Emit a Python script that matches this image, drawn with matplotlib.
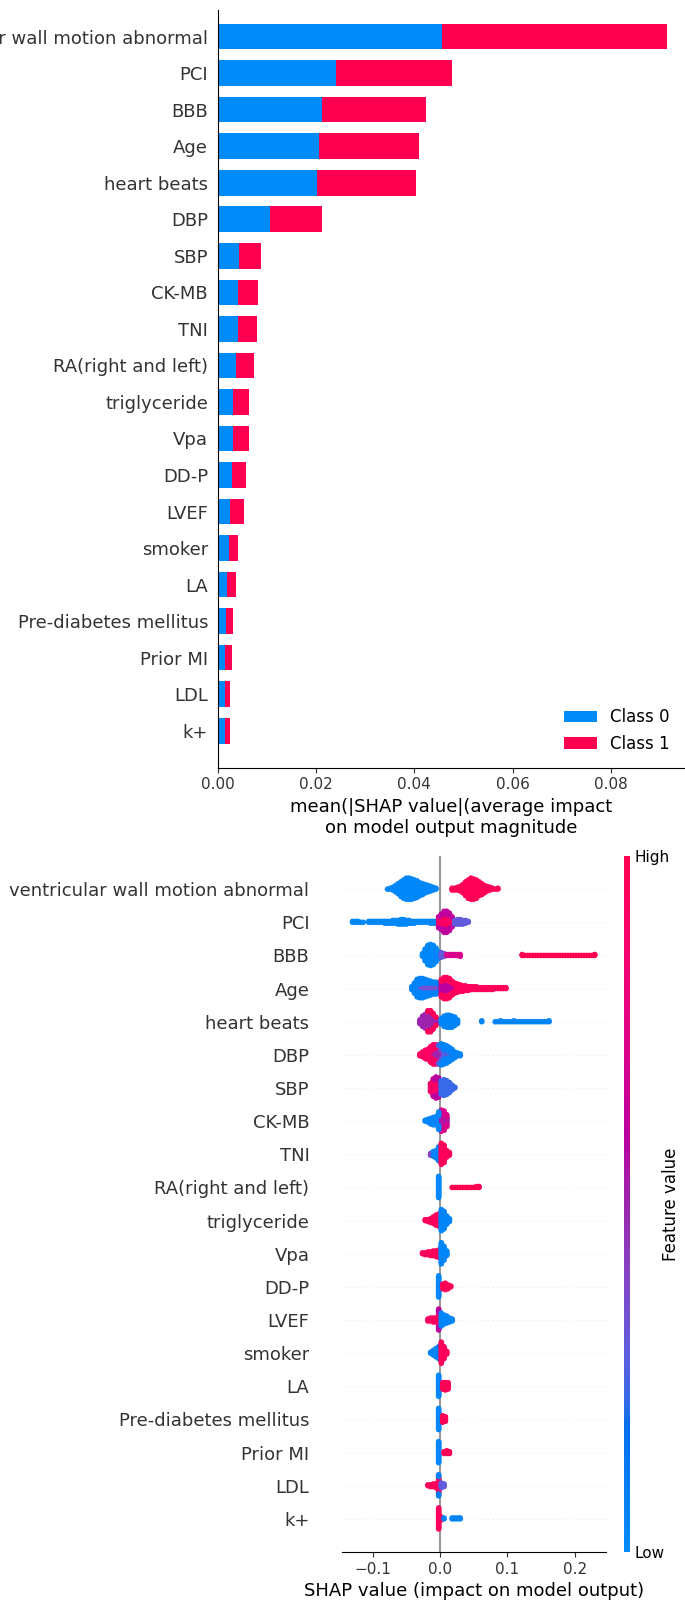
import numpy as np
import matplotlib
matplotlib.use("Agg")
import matplotlib.pyplot as plt
from matplotlib.colors import LinearSegmentedColormap
from matplotlib.cm import ScalarMappable

# feature order, most important first
features = ["ventricular wall motion abnormal", "PCI", "BBB", "Age", "heart beats",
            "DBP", "SBP", "CK-MB", "TNI", "RA(right and left)", "triglyceride",
            "Vpa", "DD-P", "LVEF", "smoker", "LA", "Pre-diabetes mellitus",
            "Prior MI", "LDL", "k+"]

# mean |SHAP| per class
class0 = [0.0457, 0.0240, 0.0213, 0.0205, 0.0202, 0.0106, 0.0044, 0.0041, 0.0041, 0.0038,
          0.0030, 0.0030, 0.0029, 0.0025, 0.0022, 0.0019, 0.0016, 0.0014, 0.0014, 0.0014]
class1 = [0.0457, 0.0236, 0.0210, 0.0204, 0.0202, 0.0107, 0.0043, 0.0041, 0.0039, 0.0036,
          0.0033, 0.0033, 0.0028, 0.0028, 0.0019, 0.0017, 0.0014, 0.0014, 0.0011, 0.0011]

# beeswarm: (first bin, feature value 0..1, point count per bin)
BIN = 0.004
vwma_pts = [(-0.050, 0.30, [2, 3, 3, 3, 3, 2, 2]),
            (-0.078, 0.02, [1, 2, 4, 8, 12, 17, 21, 22, 21, 20, 18, 16, 13, 11, 10, 8, 6, 4, 2]),
            (0.034, 0.70, [2, 3, 3, 3, 2, 2]),
            (0.018, 0.97, [3, 3, 4, 6, 8, 13, 18, 21, 21, 19, 16, 13, 9, 6, 4, 2, 1, 2])]
pci_pts = [(-0.130, 0.02, [2, 2, 2, 1, 1, 0, 2, 2, 2, 2, 2, 2, 3, 3, 3, 4, 4, 5, 6, 6, 5, 4,
                           3, 3, 2, 2, 2, 2, 2, 3, 3, 3, 3]),
           (-0.002, 0.92, [8, 14, 16, 16, 14, 9]),
           (-0.002, 0.62, [2, 4, 8, 8, 6, 3]),
           (0.022, 0.30, [5, 6, 6, 5, 4, 2])]
bbb_pts = [(-0.026, 0.03, [4, 14, 22, 24, 22, 16, 8]),
           (0.002, 0.30, [6, 4]),
           (0.010, 0.72, [2, 2, 2, 2, 2, 3]),
           (0.122, 1.00, [2, 1, 1, 1, 1, 1, 1, 1, 1, 1, 1, 1, 1, 1, 1, 1, 1, 1, 1, 1,
                          1, 1, 1, 1, 1, 1, 1, 2])]
age_pts = [(-0.034, 0.35, [6, 8, 10, 10, 10, 10, 10, 10, 8]),
           (-0.042, 0.06, [4, 12, 14, 14, 12, 10, 8, 6, 4, 4, 4]),
           (0.002, 0.60, [14, 16, 16, 14, 10, 6]),
           (0.002, 0.95, [6, 8, 8, 8, 6, 6, 10, 8, 7, 6, 5, 4, 4, 4, 3, 3, 3, 3, 3, 3,
                          2, 2, 2, 2, 2])]
hb_pts = [(-0.030, 0.50, [5, 12, 16, 20, 20, 14, 8, 3]),
          (-0.018, 0.95, [4, 4, 4, 2]),
          (0.002, 0.04, [6, 12, 14, 14, 13, 10, 5]),
          (0.062, 0.04, [2]),
          (0.082, 0.04, [1, 1, 2, 1, 1, 1, 1, 2, 1, 1, 1, 1, 1, 1, 1, 1, 1, 1, 1, 1, 2])]
dbp_pts = [(-0.014, 0.50, [6, 10, 14, 14, 10]),
           (-0.030, 0.92, [3, 6, 10, 12, 12, 12, 8, 4]),
           (-0.002, 0.28, [4, 8, 10, 8, 6, 4]),
           (0.002, 0.06, [6, 12, 12, 10, 8, 7, 4, 3])]
sbp_pts = [(-0.014, 0.90, [10, 18, 18, 14]),
           (-0.010, 0.60, [2, 6, 8]),
           (0.002, 0.22, [16, 18, 16, 12, 6, 2])]
ckmb_pts = [(-0.002, 0.55, [10, 14, 12, 8]),
            (0.002, 0.72, [10, 10, 6]),
            (-0.022, 0.04, [2, 4, 7, 9, 10, 10])]
tni_pts = [(-0.014, 0.40, [3, 4, 4]),
           (-0.010, 0.05, [2, 5, 16]),
           (0.002, 0.95, [24, 20, 8, 4])]
ra_pts = [(-0.002, 0.03, [24]),
          (0.018, 1.00, [1, 1, 1, 1, 1, 1, 1, 1, 1, 2, 2])]
trig_pts = [(-0.022, 0.95, [2, 3, 5, 8, 12, 14]),
            (0.002, 0.04, [24, 20, 10, 4])]
vpa_pts = [(-0.026, 0.95, [2, 3, 4, 5, 6, 7, 9]),
           (0.002, 0.04, [24, 16, 6])]
ddp_pts = [(-0.002, 0.03, [24]),
           (0.004, 0.97, [6, 8, 5, 2])]
lvef_pts = [(-0.002, 0.95, [14]),
            (-0.002, 0.60, [8]),
            (-0.018, 0.95, [3, 4, 5, 5]),
            (0.002, 0.05, [14, 10, 8, 5, 3])]
smk_pts = [(-0.014, 0.04, [2, 6, 10, 14]),
           (0.002, 0.95, [24, 14, 4])]
la_pts = [(-0.002, 0.03, [24]),
          (0.004, 0.97, [8, 9, 8])]
pdm_pts = [(-0.002, 0.03, [24]),
           (0.004, 0.97, [8, 6])]
pmi_pts = [(-0.002, 0.03, [24]),
           (0.006, 0.97, [3, 4, 3])]
ldl_pts = [(-0.002, 0.55, [12]),
           (-0.002, 0.95, [6]),
           (-0.002, 0.10, [6]),
           (-0.018, 0.95, [2, 3, 4, 5]),
           (0.002, 0.30, [6, 4])]
kp_pts = [(-0.002, 0.95, [24]),
          (0.002, 0.95, [4]),
          (0.006, 0.04, [2]),
          (0.018, 0.04, [2, 2, 2, 2])]

swarm_rows = [vwma_pts, pci_pts, bbb_pts, age_pts, hb_pts, dbp_pts, sbp_pts, ckmb_pts,
              tni_pts, ra_pts, trig_pts, vpa_pts, ddp_pts, lvef_pts, smk_pts, la_pts,
              pdm_pts, pmi_pts, ldl_pts, kp_pts]


def lch_to_rgb(l, c, h):
    a, b = c * np.cos(h), c * np.sin(h)
    fy = (l + 16) / 116
    fx, fz = fy + a / 500, fy - b / 200

    def finv(t):
        return np.where(t > 6 / 29, t ** 3, 3 * (6 / 29) ** 2 * (t - 4 / 29))

    xyz = np.array([0.95047 * finv(fx), finv(fy), 1.08883 * finv(fz)])
    m = np.array([[3.2406, -1.5372, -0.4986],
                  [-0.9689, 1.8758, 0.0415],
                  [0.0557, -0.2040, 1.0570]])
    rgb = m @ xyz
    rgb = np.where(rgb > 0.0031308, 1.055 * np.abs(rgb) ** (1 / 2.4) - 0.055, 12.92 * rgb)
    return np.clip(rgb, 0, 1)


# blue -> purple -> red scale in LCh space
blue_lch = (54.0, 70.0, 4.6588)
red_lch = (54.0, 90.0, 0.35470565 + 2 * np.pi)
nsteps = 100
l_vals = list(np.linspace(blue_lch[0], 40.0, nsteps // 2)) + list(np.linspace(40.0, red_lch[0], nsteps // 2))
c_vals = np.linspace(blue_lch[1], red_lch[1], nsteps)
h_vals = np.linspace(blue_lch[2], red_lch[2], nsteps)
cmap = LinearSegmentedColormap.from_list(
    "red_blue", [lch_to_rgb(l, c, h) for l, c, h in zip(l_vals, c_vals, h_vals)])
blue_rgb = lch_to_rgb(*blue_lch)
red_rgb = lch_to_rgb(*red_lch)

axis_color = "#333333"
n = len(features)
ypos = np.arange(n)[::-1]

fig = plt.figure(figsize=(6.85, 16.03), dpi=100)

# ---- stacked bar of mean |SHAP| ----
ax1 = fig.add_axes([0.318, 0.5211, 0.682, 0.4727])
ax1.barh(ypos, class0, 0.7, color=blue_rgb, label="Class 0")
ax1.barh(ypos, class1, 0.7, left=class0, color=red_rgb, label="Class 1")
ax1.set_yticks(ypos)
ax1.set_yticklabels(features, fontsize=13)
ax1.set_xlim(0, 0.0951)
ax1.set_ylim(-1.01, 19.73)
ax1.xaxis.set_ticks_position("bottom")
ax1.yaxis.set_ticks_position("none")
ax1.spines["right"].set_visible(False)
ax1.spines["top"].set_visible(False)
ax1.tick_params(color=axis_color, labelcolor=axis_color)
ax1.tick_params("x", labelsize=11)
ax1.set_xticks([0, 0.02, 0.04, 0.06, 0.08])
ax1.set_xlabel("mean(|SHAP value|(average impact\non model output magnitude", fontsize=13)
ax1.legend(frameon=False, fontsize=12, loc="lower right")

# ---- beeswarm ----
ax2 = fig.add_axes([0.4993, 0.0318, 0.3854, 0.4342])
ax2.axvline(0, color="#999999", zorder=-1)
for row, clusters in enumerate(swarm_rows):
    pos = ypos[row]
    ax2.axhline(pos, color="#cccccc", lw=0.5, dashes=(1, 5), zorder=-1)
    xs, cs = [], []
    for x0, cval, counts in clusters:
        for i, k in enumerate(counts):
            xs += [x0 + i * BIN] * k
            cs += [cval] * k
    xs = np.array(xs)
    ys = np.zeros(len(xs))
    layer = {}
    for j, x in enumerate(xs):
        key = round(x, 5)
        m = layer.get(key, 0)
        ys[j] = np.ceil(m / 2) * ((m % 2) * 2 - 1)
        layer[key] = m + 1
    ys *= 0.9 * (0.4 / np.max(ys + 1))
    ax2.scatter(xs, pos + ys, c=cs, cmap=cmap, vmin=0, vmax=1, s=16,
                linewidth=0, zorder=3)

ax2.set_yticks(ypos)
ax2.set_yticklabels(features, fontsize=13)
ax2.set_ylim(-1, n)
ax2.set_xlim(-0.1456, 0.2467)
ax2.set_xticks([-0.1, 0.0, 0.1, 0.2])
ax2.xaxis.set_ticks_position("bottom")
ax2.yaxis.set_ticks_position("none")
for side in ("right", "top", "left"):
    ax2.spines[side].set_visible(False)
ax2.tick_params(color=axis_color, labelcolor=axis_color)
ax2.tick_params("y", length=20, width=0.5, which="major")
ax2.tick_params("x", labelsize=11)
ax2.set_xlabel("SHAP value (impact on model output)", fontsize=13)

cax = fig.add_axes([0.911, 0.0318, 0.0085, 0.4342])
sm = ScalarMappable(cmap=cmap)
sm.set_array([0, 1])
cb = fig.colorbar(sm, cax=cax, ticks=[0, 1])
cb.set_ticklabels(["Low", "High"])
cb.set_label("Feature value", size=12, labelpad=-6)
cb.ax.tick_params(labelsize=11, length=0)
cb.outline.set_visible(False)

fig.savefig("out.png", dpi=100)
